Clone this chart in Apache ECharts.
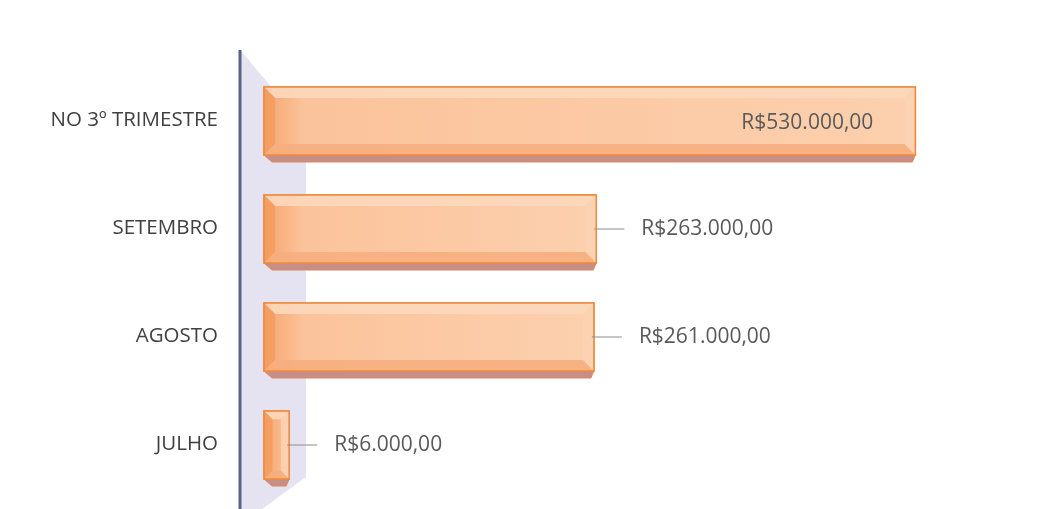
<!DOCTYPE html>
<html>
<head>
<meta charset="utf-8">
<script src="https://cdn.jsdelivr.net/npm/echarts@6/dist/echarts.min.js"></script>
<style>
  html, body { margin: 0; padding: 0; background: #ffffff; }
  #chart { width: 1060px; height: 509px; }
</style>
</head>
<body>
<div id="chart"></div>
<script>
// ---- data ----
const categories = ['JULHO', 'AGOSTO', 'SETEMBRO', 'NO 3º TRIMESTRE'];
const values = [6000, 261000, 263000, 530000];

function formatBRL(v) {
  const intPart = Math.floor(v).toString().replace(/\B(?=(\d{3})+(?!\d))/g, '.');
  const cents = Math.round((v - Math.floor(v)) * 100).toString().padStart(2, '0');
  return 'R$' + intPart + ',' + cents;
}

const GRID_LEFT = 282;
const maxVal = Math.max(...values);
const LABEL_FONT = '21px "Open Sans", sans-serif';

const chart = echarts.init(document.getElementById('chart'), null, { renderer: 'canvas' });

function renderItem(params, api) {
  const v = api.value(0);
  const c = api.value(1);
  const p0 = api.coord([0, c]);
  const p1 = api.coord([v, c]);
  const band = api.size([0, 1])[1];
  const h = band * 0.63;
  const x0 = p0[0] - 18;
  const x1 = p1[0];
  const yTop = p0[1] - h / 2 + 1;
  const yBot = yTop + h;
  const w = x1 - x0;
  const b = Math.min(11, w / 3);
  const children = [];
  // underside (3D bottom face)
  children.push({
    type: 'polygon',
    shape: { points: [[x0, yBot], [x1, yBot], [x1 - 3, yBot + 7], [x0 + 8, yBot + 7]] },
    style: { fill: '#c58e89', stroke: '#e08a5a', lineWidth: 1 }
  });
  // front face
  children.push({
    type: 'rect',
    shape: { x: x0, y: yTop, width: w, height: h },
    style: {
      fill: new echarts.graphic.LinearGradient(0, 0, 1, 0, [
        { offset: 0, color: '#f6a46c' },
        { offset: Math.min(1, 40 / w), color: '#fbc39b' },
        { offset: 1, color: '#fcd0ae' }
      ]),
      stroke: '#ef8a3e', lineWidth: 1.5
    }
  });
  // bevels
  children.push({
    type: 'polygon',
    shape: { points: [[x0, yTop], [x1, yTop], [x1 - b, yTop + b], [x0 + b, yTop + b]] },
    style: { fill: '#fcd8bc', opacity: 0.9 }
  });
  children.push({
    type: 'polygon',
    shape: { points: [[x1, yTop], [x1, yBot], [x1 - b, yBot - b], [x1 - b, yTop + b]] },
    style: { fill: '#fbd2b3', opacity: 0.9 }
  });
  children.push({
    type: 'polygon',
    shape: { points: [[x0, yTop], [x0 + b, yTop + b], [x0 + b, yBot - b], [x0, yBot]] },
    style: { fill: '#f49c60', opacity: 0.9 }
  });
  children.push({
    type: 'polygon',
    shape: { points: [[x0, yBot], [x0 + b, yBot - b], [x1 - b, yBot - b], [x1, yBot]] },
    style: { fill: '#f6ae80', opacity: 0.9 }
  });
  // outline again on top
  children.push({
    type: 'rect',
    shape: { x: x0, y: yTop, width: w, height: h },
    style: { fill: 'none', stroke: '#ef8a3e', lineWidth: 1.5 }
  });
  const label = formatBRL(v);
  const yMid = p0[1] + 3;
  if (v === maxVal) {
    children.push({
      type: 'text',
      style: {
        x: x1 - 42, y: yMid, text: label, align: 'right', verticalAlign: 'middle',
        fill: '#595959', font: LABEL_FONT
      }
    });
  } else {
    children.push({
      type: 'line',
      shape: { x1: x1 - 2, y1: yMid - 2, x2: x1 + 28, y2: yMid - 2 },
      style: { stroke: '#8c8c8c', lineWidth: 1 }
    });
    children.push({
      type: 'text',
      style: {
        x: x1 + 45, y: yMid - 2, text: label, align: 'left', verticalAlign: 'middle',
        fill: '#595959', font: LABEL_FONT
      }
    });
  }
  return { type: 'group', children };
}

const option = {
  backgroundColor: '#ffffff',
  animation: false,
  grid: { left: GRID_LEFT, right: 61, top: 66, bottom: 11, containLabel: false },
  xAxis: {
    type: 'value', min: 0, max: 600000, show: false,
    splitLine: { show: false }
  },
  yAxis: {
    type: 'category',
    data: categories,
    axisLine: { show: false },
    axisTick: { show: false },
    axisLabel: {
      margin: 64, color: '#404040', fontSize: 20.5,
      fontFamily: '"Open Sans", sans-serif'
    }
  },
  graphic: [
    {
      type: 'polygon', z: 0,
      shape: { points: [[240, 50], [306, 128], [306, 477], [258, 512], [240, 512]] },
      style: { fill: '#e5e2f2' }
    },
    {
      type: 'line', z: 1,
      shape: { x1: 240, y1: 50, x2: 240, y2: 512 },
      style: { stroke: '#5d6085', lineWidth: 3 }
    }
  ],
  series: [{
    type: 'custom',
    z: 5,
    renderItem: renderItem,
    encode: { x: 0, y: 1 },
    data: values.map((v, i) => [v, i])
  }]
};
chart.setOption(option);
</script>
</body>
</html>
